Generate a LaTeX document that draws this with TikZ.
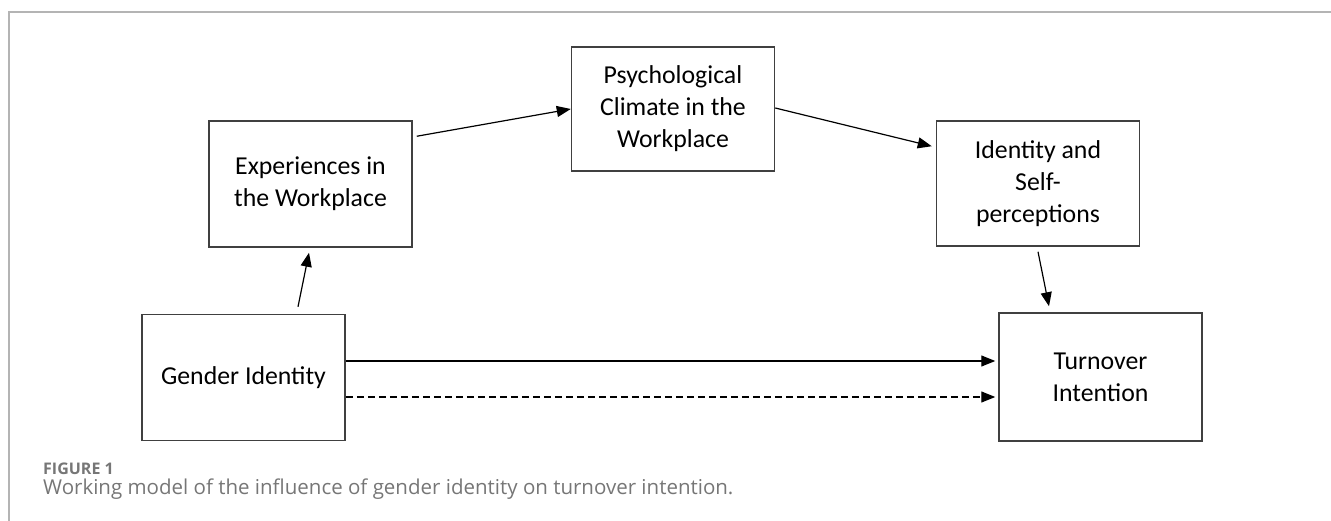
\documentclass[tikz,border=0pt]{standalone}
\usepackage{fontspec}
\setmainfont{Carlito}
\newfontfamily\capfont{Open Sans}
\usetikzlibrary{arrows.meta}
\definecolor{framegray}{HTML}{B4B4B4}
\definecolor{capgray}{HTML}{767676}
\definecolor{boxline}{HTML}{404040}
\tikzset{
  box/.style={draw=boxline, line width=1.5pt, minimum width=203pt, minimum height=126pt,
    align=center, inner sep=0pt, font=\fontsize{25.8}{32}\selectfont},
  link/.style={line width=1.2pt, -{Triangle[length=14pt,width=11pt]}}
}
\begin{document}
\begin{tikzpicture}[x=1pt,y=-1pt]
            \useasboundingbox (0,0) rectangle (1331,521);
            \draw [framegray, line width=1.5pt] (1331,12) -- (9,12) -- (9,521);
            \node [box] (gender) at (243.5,377.5) {Gender Identity};
            \node [box] (exper) at (310.5,184) {Experiences in\\the Workplace};
            \node [box, minimum height=124pt] (psych) at (673,109) {Psychological\\Climate in the\\Workplace};
            \node [box, minimum height=125pt] (self) at (1038,183.5) {Identity and\\Self-\\perceptions};
            \node [box, minimum height=128pt] (turn) at (1100.5,377) {Turnover\\Intention};
            \draw [link] ([xshift=54.5pt,yshift=7pt]gender.north) -- ([xshift=-1.5pt,yshift=-5pt]exper.south);
            \draw [link] ([xshift=4pt,yshift=-16pt]exper.north east) -- (psych.west);
            \draw [link] ([yshift=1pt]psych.east) -- ([xshift=-4pt,yshift=-26pt]self.north west);
            \draw [link] ([yshift=-5pt]self.south) -- ([xshift=-51.5pt,yshift=6pt]turn.north);
            \draw [link] ([yshift=16.5pt]gender.east) -- ([xshift=-3pt]turn.west |- 0,361);
            \draw [link, dash pattern=on 7pt off 4pt] ([yshift=-19.5pt]gender.east) -- ([xshift=-3pt]turn.west |- 0,397);
            \node [anchor=base west, inner sep=0pt, text=capgray, font=\capfont\bfseries\fontsize{16}{18}\selectfont] (fig) at (43,474) {FIGURE 1};
            \node [anchor=base west, inner sep=0pt, text=capgray, font=\capfont\fontsize{20.5}{23}\selectfont] (cap) at (43,494) {Working model of the influence of gender identity on turnover intention.};
        \end{tikzpicture}
\end{document}
